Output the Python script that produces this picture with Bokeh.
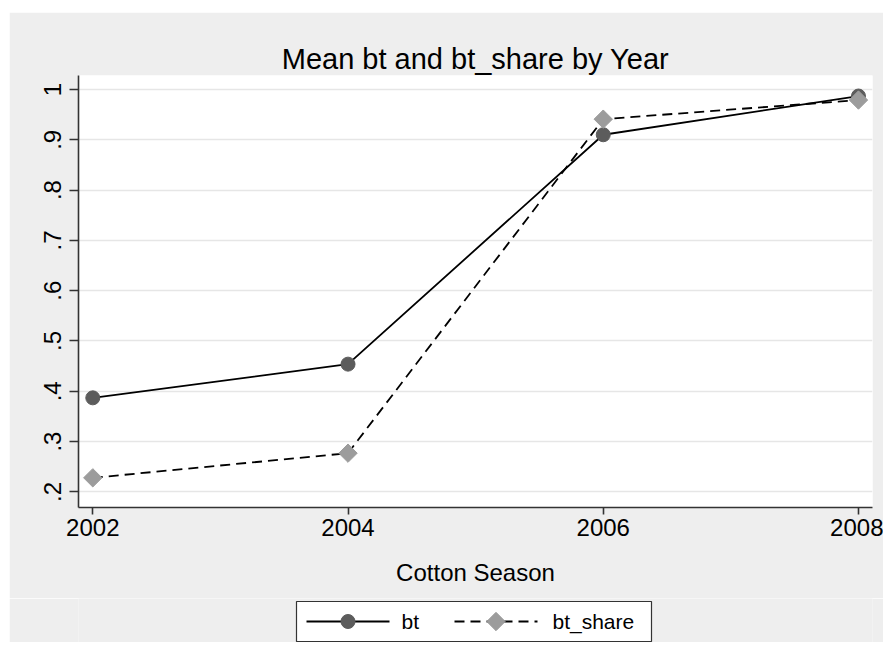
import numpy as np
from bokeh.plotting import figure
from bokeh.layouts import column, row
from bokeh.models import FixedTicker, ColumnDataSource, Range1d, Spacer
from bokeh.core.properties import value
from bokeh.embed import file_html
from bokeh.resources import INLINE

years = [2002, 2004, 2006, 2008]
bt = [0.387, 0.454, 0.910, 0.987]
bt_share = [0.228, 0.277, 0.941, 0.979]
y_ticks = [0.2, 0.3, 0.4, 0.5, 0.6, 0.7, 0.8, 0.9, 1.0]
y_tick_labels = [".2", ".3", ".4", ".5", ".6", ".7", ".8", ".9", "1"]
x_ticks = [2002, 2004, 2006, 2008]
series_names = ["bt", "bt_share"]

FONT = "Liberation Sans"
BG = "#eeeeee"
W = 874
H_MAIN = 586
H_LEG = 44
BL, BR = 69, 11

p = figure(width=W, height=H_MAIN,
           min_border_left=BL, min_border_right=BR, min_border_top=63,
           min_border_bottom=H_MAIN - 63 - 432,
           x_range=Range1d(2001.888, 2008.11), y_range=Range1d(0.169, 1.0278),
           output_backend="svg", toolbar_location=None,
           title="Mean bt and bt_share by Year")

p.border_fill_color = BG
p.background_fill_color = "white"
p.outline_line_color = None

p.title.align = "center"
p.title.text_font = FONT
p.title.text_font_size = "29px"
p.title.text_font_style = "normal"
p.title.text_color = "black"
p.title.standoff = 2

src = ColumnDataSource(dict(x=years, bt=bt, share=bt_share))

LINE_KW = dict(line_color="black", line_width=1.8)
BT_MARK = dict(marker="circle", size=14, fill_color="#5c5c5c", line_color="#5c5c5c")
SH_MARK = dict(marker="square", angle=np.pi / 4, size=13, fill_color="#9c9c9c", line_color="#9c9c9c")
DASH = "10 6"

p.line("x", "bt", source=src, **LINE_KW)
p.scatter("x", "bt", source=src, **BT_MARK)
p.line("x", "share", source=src, line_dash=DASH, **LINE_KW)
p.scatter("x", "share", source=src, **SH_MARK)

# axes
p.xaxis.ticker = FixedTicker(ticks=x_ticks)
p.yaxis.ticker = FixedTicker(ticks=y_ticks)
p.yaxis.major_label_overrides = {t: l for t, l in zip(y_ticks, y_tick_labels)}
p.yaxis.major_label_orientation = "vertical"
for ax in (p.xaxis, p.yaxis):
    ax.axis_line_color = "#333333"
    ax.axis_line_width = 1.6
    ax.major_tick_line_color = "#333333"
    ax.major_tick_line_width = 1.6
    ax.major_tick_in = 0
    ax.minor_tick_line_color = None
    ax.major_label_text_font = FONT
    ax.major_label_text_font_size = "24px"
    ax.major_label_text_color = "black"
p.yaxis.major_tick_out = 9
p.xaxis.major_tick_out = 7
p.yaxis.major_label_standoff = 8
p.xaxis.major_label_standoff = 4

p.xaxis.axis_label = "Cotton Season"
p.xaxis.axis_label_text_font = FONT
p.xaxis.axis_label_text_font_size = "24px"
p.xaxis.axis_label_text_font_style = "normal"
p.xaxis.axis_label_text_color = "black"
p.xaxis.axis_label_standoff = 20

p.xgrid.grid_line_color = None
p.ygrid.grid_line_color = "#e6e6e6"
p.ygrid.grid_line_width = 1.5

# ---- legend strip (x in figure pixels; frame aligned with main plot) ----
lg = figure(width=W, height=H_LEG, x_range=Range1d(BL, W - BR), y_range=Range1d(0, H_LEG),
            min_border_left=BL, min_border_right=BR, min_border_top=0, min_border_bottom=0,
            output_backend="svg", toolbar_location=None,
            x_axis_location=None, y_axis_location=None)
lg.border_fill_color = BG
lg.background_fill_color = BG
lg.outline_line_color = None
lg.grid.grid_line_color = None

box_l, box_r, box_t, box_b = 287, 642, H_LEG - 3, H_LEG - 43
cy = (box_t + box_b) / 2
lg.quad(left=[box_l], right=[box_r], top=[box_t], bottom=[box_b],
        fill_color="white", line_color="#333333", line_width=1.2)

gw = 83
g1 = box_l + 10
g2 = 445
lg.line([g1, g1 + gw], [cy, cy], **LINE_KW)
lg.scatter([g1 + gw / 2], [cy], **BT_MARK)
lg.line([g2, g2 + gw], [cy, cy], line_dash=DASH, **LINE_KW)
lg.scatter([g2 + gw / 2], [cy], **SH_MARK)
lg.text(x=[g1 + gw + 12, g2 + gw + 15], y=[cy, cy], text=series_names,
        text_font=value(FONT), text_font_size="21px", text_color="black",
        text_baseline="middle", text_align="left")

layout = column(Spacer(width=W + 9, height=12),
                row(Spacer(width=9, height=H_MAIN + H_LEG), column(p, lg, spacing=0), spacing=0),
                spacing=0)

open("out.html", "w").write(file_html(layout, INLINE))
